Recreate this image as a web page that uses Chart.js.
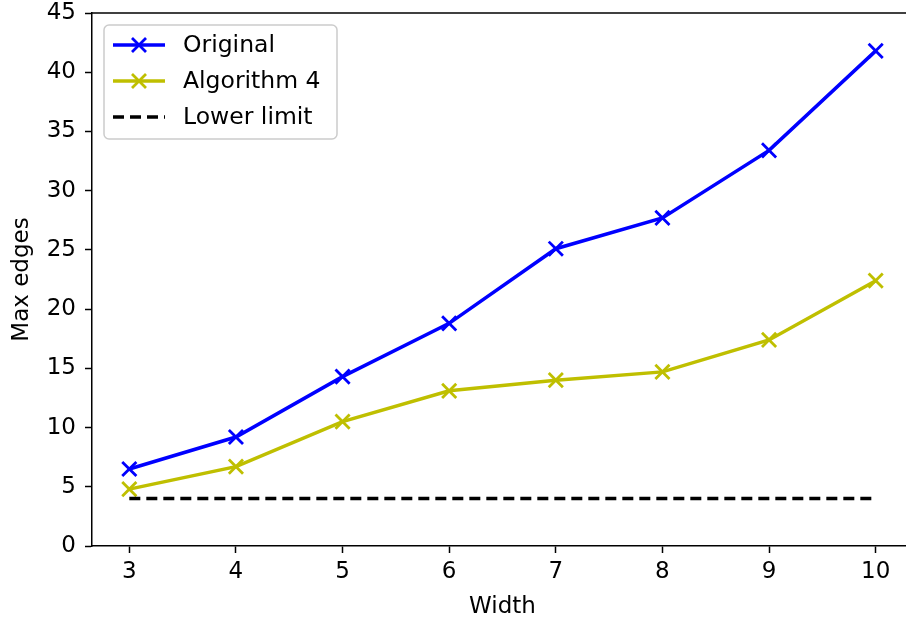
<!DOCTYPE html>
<html>
<head>
<meta charset="utf-8">
<script src="https://cdn.jsdelivr.net/npm/chart.js@4"></script>
<style>
  html, body { margin: 0; padding: 0; background: #fff; overflow: hidden; }
  #wrap { width: 906px; height: 626px; overflow: hidden; }
</style>
</head>
<body>
<div id="wrap"><canvas id="grafico" width="915" height="626"></canvas></div>
<script>
const anchos = [3, 4, 5, 6, 7, 8, 9, 10];
const original = [6.5, 9.2, 14.3, 18.8, 25.1, 27.7, 33.4, 41.8];
const algoritmo4 = [4.8, 6.7, 10.5, 13.1, 14.0, 14.7, 17.4, 22.4];
const limiteInferior = [4, 4, 4, 4, 4, 4, 4, 4];
const ticksY = [0, 5, 10, 15, 20, 25, 30, 35, 40, 45];

const fuente = { family: 'DejaVu Sans', size: 23 };

function puntos(valores) {
  return anchos.map((x, i) => ({ x: x, y: valores[i] }));
}

// quita el relleno extra que Chart.js reserva para las etiquetas de los extremos
function sinRelleno(s) {
  s.paddingTop = 0; s.paddingBottom = 0; s.paddingLeft = 0; s.paddingRight = 0;
}

// leyenda con marco redondeado dentro del area del grafico
const leyenda = {
  id: 'leyenda',
  afterDraw(chart) {
    const ctx = chart.ctx;
    const area = chart.chartArea;
    const x0 = area.left + 12, y0 = area.top + 12, w = 233, h = 114;
    ctx.save();
    ctx.beginPath();
    ctx.roundRect(x0, y0, w, h, 5);
    ctx.fillStyle = 'rgba(255,255,255,0.8)';
    ctx.fill();
    ctx.strokeStyle = '#cccccc';
    ctx.lineWidth = 1.5;
    ctx.stroke();
    chart.data.datasets.forEach((ds, i) => {
      const y = y0 + 20 + i * 36;
      const lx1 = x0 + 9, lx2 = x0 + 61;
      ctx.strokeStyle = ds.borderColor;
      ctx.lineWidth = ds.borderWidth;
      ctx.setLineDash(ds.borderDash || []);
      ctx.beginPath();
      ctx.moveTo(lx1, y);
      ctx.lineTo(lx2, y);
      ctx.stroke();
      ctx.setLineDash([]);
      if (ds.pointRadius > 0) {
        const cx = (lx1 + lx2) / 2, r = 7;
        ctx.lineWidth = ds.pointBorderWidth;
        ctx.beginPath();
        ctx.moveTo(cx - r, y - r); ctx.lineTo(cx + r, y + r);
        ctx.moveTo(cx - r, y + r); ctx.lineTo(cx + r, y - r);
        ctx.stroke();
      }
      ctx.fillStyle = '#000';
      ctx.font = '23.5px "DejaVu Sans"';
      ctx.textBaseline = 'middle';
      ctx.fillText(ds.label, x0 + 79, y + 1);
    });
    ctx.restore();
  }
};

// linea superior del marco
const marco = {
  id: 'marco',
  afterDatasetsDraw(chart) {
    const ctx = chart.ctx;
    const a = chart.chartArea;
    ctx.save();
    ctx.strokeStyle = '#000';
    ctx.lineWidth = 1.5;
    ctx.beginPath();
    ctx.moveTo(a.left, a.top);
    ctx.lineTo(a.right, a.top);
    ctx.stroke();
    ctx.restore();
  }
};

new Chart(document.getElementById('grafico').getContext('2d'), {
  type: 'line',
  data: {
    datasets: [{
      label: 'Original',
      data: puntos(original),
      borderColor: '#0000ff',
      borderWidth: 3.5,
      pointStyle: 'crossRot',
      pointRadius: 10,
      pointBorderWidth: 2.8,
      pointBorderColor: '#0000ff',
      tension: 0,
      order: 3
    }, {
      label: 'Algorithm 4',
      data: puntos(algoritmo4),
      borderColor: '#bfbf00',
      borderWidth: 3.5,
      pointStyle: 'crossRot',
      pointRadius: 10,
      pointBorderWidth: 2.8,
      pointBorderColor: '#bfbf00',
      tension: 0,
      order: 2
    }, {
      label: 'Lower limit',
      data: puntos(limiteInferior),
      borderColor: '#000000',
      borderWidth: 3.5,
      borderDash: [11, 6],
      pointRadius: 0,
      tension: 0,
      order: 1
    }]
  },
  options: {
    responsive: false,
    animation: false,
    layout: { autoPadding: false, padding: { top: 13, right: 2, left: 0, bottom: 0 } },
    plugins: { legend: { display: false }, tooltip: { enabled: false } },
    scales: {
      x: {
        type: 'linear',
        min: 2.65,
        max: 10.35,
        afterBuildTicks: (s) => { s.ticks = anchos.map(v => ({ value: v })); },
        afterFit: (s) => { s.height = 80; sinRelleno(s); },
        grid: { drawOnChartArea: false, drawTicks: true, tickLength: 7, color: '#000', tickWidth: 1.5 },
        border: { display: true, color: '#000', width: 1.5 },
        ticks: { color: '#000', font: fuente, padding: 5, maxRotation: 0 },
        title: { display: true, text: 'Width', color: '#000', font: fuente, padding: { top: 0, bottom: 5 } }
      },
      y: {
        min: 0,
        max: 45,
        afterBuildTicks: (s) => { s.ticks = ticksY.map(v => ({ value: v })); },
        afterFit: (s) => { s.width = 92; sinRelleno(s); },
        grid: { drawOnChartArea: false, drawTicks: true, tickLength: 7, color: '#000', tickWidth: 1.5 },
        border: { display: true, color: '#000', width: 1.5 },
        ticks: { color: '#000', font: fuente, padding: 9 },
        title: { display: true, text: 'Max edges', color: '#000', font: fuente, padding: { top: 8, bottom: 0 } }
      }
    }
  },
  plugins: [marco, leyenda]
});
</script>
</body>
</html>
